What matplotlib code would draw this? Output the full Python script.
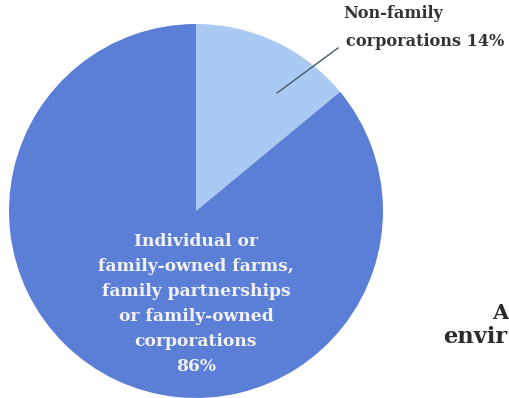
import matplotlib
matplotlib.use("Agg")
import matplotlib.pyplot as plt

categories = ["Non-family\ncorporations 14%",
              "Individual or\nfamily-owned farms,\nfamily partnerships\nor family-owned\ncorporations\n86%"]
shares = [14, 86]
colors = ["#a9cbf3", "#5b7ed6"]

W, H = 509, 398
fig = plt.figure(figsize=(W / 100, H / 100), dpi=100)
ax = fig.add_axes([0, 0, 1, 1])

cx, cy, r = 196, H - 211, 187
wedges, _ = ax.pie(shares, colors=colors, startangle=90, counterclock=False,
                   center=(cx, cy), radius=r, frame=True,
                   wedgeprops=dict(linewidth=0))
ax.set_xlim(0, W)
ax.set_ylim(0, H)
ax.set_aspect("equal")
ax.axis("off")

font = dict(family="DejaVu Serif", fontweight="bold")
# outside label with leader line
ax.plot([277, 338], [H - 93, H - 48], color="#4a5a6a", lw=1.0)
lab0 = categories[0].split("\n")
ax.text(343, H - 14, lab0[0], ha="left", va="center",
        fontsize=11.6, color="#333333", **font)
ax.text(346, H - 42, lab0[1], ha="left", va="center",
        fontsize=11.6, color="#333333", **font)

# inside label
ax.text(cx, H - 304, categories[1], ha="center", va="center", fontsize=12.3,
        color="#f2f2f4", linespacing=1.62, **font)

# truncated text at right edge (as visible in the reference)
ax.text(492, H - 313, "A", ha="left", va="center", fontsize=15,
        color="#2a2a2a", **font)
ax.text(443, H - 337, "envir", ha="left", va="center", fontsize=16.2,
        color="#2a2a2a", **font)

fig.savefig("out.png", dpi=100)
